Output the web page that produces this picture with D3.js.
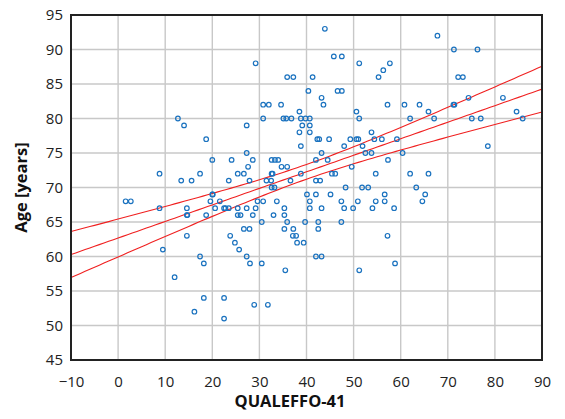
<!DOCTYPE html>
<html>
<head>
<meta charset="utf-8">
<script src="https://cdn.jsdelivr.net/npm/d3@7"></script>
<style>
  body { margin: 0; background: #fff; }
  text { font-family: "Open Sans", "Noto Sans", sans-serif; }
</style>
</head>
<body>
<div id="chart"></div>
<script>
// QUALEFFO-41 score vs age, one pair per patient
const patients = [
  [1.6,68],[2.7,68],[8.8,72],[8.8,67],[9.5,61],[12,57],[12.7,80],[13.4,71],[14,79],
  [14.6,67],[14.6,66],[14.7,66],[14.6,63],[15.6,71],[16.2,52],[17.4,72],[17.4,60],
  [18.2,59],[18.2,54],[18.7,77],[18.7,66],[19.6,68],[20,69],[20.1,69],[20,74],[20.6,67],
  [21.6,68],[22.5,67],[22.8,67],[23.5,67],[22.5,54],[22.5,51],[23.5,71],[23.8,63],
  [24.1,74],[24.8,62],[25.4,72],[25.4,67],[25.4,66],[25.7,61],[26,66],[26.7,72],[26.7,64],
  [27.3,79],[27.3,75],[27.3,67],[27.3,60],[27.6,73],[27.9,71],[27.9,64],[28,59],[28.6,74],
  [28.6,66],[28.9,53],[29.2,88],[29.2,67],[29.6,68],[30.5,65],[30.5,59],[30.8,82],[30.8,80],
  [30.8,68],[31.5,71],[31.8,53],[32,82],[32.6,74],[32.6,72],[32.8,72],[32.5,71],[32.6,70],
  [33.2,70],[33.3,74],[33,66],[33.7,68],[34,74],[34.6,82],[34.7,73],[35.1,80],[35.7,80],
  [36.8,80],[35.3,67],[35.3,66],[35.3,64],[35.5,58],[35.9,86],[35.9,73],[35.9,65],[36.6,71],
  [37.2,86],[37.2,64],[37.1,63],[37.8,63],[38,62],[39.4,62],[38.5,81],[38.5,78],[38.8,80],
  [38.8,76],[38.8,72],[39.1,79],[39.7,65],[39.8,80],[40.1,69],[40.4,84],[40.7,80],[40.7,79],
  [40.7,78],[40.7,68],[40.7,67],[41.3,86],[42,74],[42,71],[42,69],[42,60],[42.3,77],[42.7,77],
  [42.5,65],[42.5,64],[42.9,71],[43.2,83],[43.6,82],[43.2,75],[43.2,67],[43.2,60],[43.9,93],
  [44.5,74],[44.8,77],[45.1,69],[45.4,72],[45.8,89],[46.1,72],[46.6,84],[47.5,84],[47.5,89],
  [47.4,68],[47.4,65],[48,76],[48,67],[48.3,70],[49.3,77],[49.6,73],[49.9,67],[50.6,81],
  [50.6,77],[51,77],[50.9,68],[51.2,88],[51.2,80],[51.2,58],[51.8,70],[51.9,76],[52.5,75],
  [53.1,70],[53.8,78],[53.8,75],[54,67],[54.4,77],[54.7,72],[54.7,68],[55.3,86],[56,77],
  [56.3,87],[56.6,69],[56.6,68],[57.2,82],[57.3,74],[57.2,63],[57.7,88],[58.6,67],[58.8,59],
  [59.2,77],[60.4,75],[60.8,82],[62,80],[62,72],[63.3,70],[64,82],[64.6,68],[65.2,69],
  [65.9,81],[65.9,72],[67.1,80],[67.8,92],[71.3,90],[71.2,82],[71.4,82],[72.2,86],[73.2,86],
  [74.4,83],[75.1,80],[76.3,90],[77,80],[78.5,76],[81.7,83],[84.6,81],[85.9,80]
];

const xTicks = [-10, 0, 10, 20, 30, 40, 50, 60, 70, 80, 90];
const yTicks = [45, 50, 55, 60, 65, 70, 75, 80, 85, 90, 95];
const xTitle = "QUALEFFO-41";
const yTitle = "Age [years]";

const width = 565, height = 419;
const margin = { top: 15, right: 23, bottom: 59, left: 71 };

const svg = d3.select("#chart").append("svg")
  .attr("width", width)
  .attr("height", height);

const x = d3.scaleLinear().domain([-10, 90]).range([margin.left, width - margin.right]);
const y = d3.scaleLinear().domain([45, 95]).range([height - margin.bottom, margin.top]);

// grid
svg.append("g").selectAll("line").data(xTicks).join("line")
  .attr("x1", d => x(d)).attr("x2", d => x(d))
  .attr("y1", y(95)).attr("y2", y(45))
  .attr("stroke", "#c8c8c8").attr("stroke-width", 1.4);
svg.append("g").selectAll("line").data(yTicks).join("line")
  .attr("x1", x(-10)).attr("x2", x(90))
  .attr("y1", d => y(d)).attr("y2", d => y(d))
  .attr("stroke", "#c8c8c8").attr("stroke-width", 1.4);

// axes (labels only)
const fmt = d => d < 0 ? "\u2212" + Math.abs(d) : String(d);
const xAxis = svg.append("g")
  .attr("transform", `translate(0,${y(45)})`)
  .call(d3.axisBottom(x).tickValues(xTicks).tickFormat(fmt).tickSize(0).tickPadding(16));
const yAxis = svg.append("g")
  .attr("transform", `translate(${x(-10)},0)`)
  .call(d3.axisLeft(y).tickValues(yTicks).tickFormat(fmt).tickSize(0).tickPadding(8));
[xAxis, yAxis].forEach(a => {
  a.select(".domain").remove();
  a.selectAll("text").attr("font-size", 15).attr("fill", "#222")
    .style("font-family", '"Open Sans", sans-serif');
});

// regression line with 95% confidence band, computed from the points
const n = patients.length;
const mx = d3.mean(patients, d => d[0]);
const my = d3.mean(patients, d => d[1]);
const sxx = d3.sum(patients, d => (d[0] - mx) ** 2);
const sxy = d3.sum(patients, d => (d[0] - mx) * (d[1] - my));
const slope = sxy / sxx;
const icpt = my - slope * mx;
const sse = d3.sum(patients, d => (d[1] - icpt - slope * d[0]) ** 2);
const se = Math.sqrt(sse / (n - 2));
const tval = 1.973;
const fit = v => icpt + slope * v;
const half = v => tval * se * Math.sqrt(1 / n + (v - mx) ** 2 / sxx);

const xs = d3.range(-10, 90.01, 1);
const line = d3.line().x(d => x(d[0])).y(d => y(d[1]));
[v => fit(v) + half(v), v => fit(v), v => fit(v) - half(v)].forEach(f => {
  svg.append("path")
    .datum(xs.map(v => [v, f(v)]))
    .attr("d", line)
    .attr("fill", "none")
    .attr("stroke", "#f02020")
    .attr("stroke-width", 1.1);
});

// points
svg.append("g").selectAll("circle").data(patients).join("circle")
  .attr("cx", d => x(d[0]))
  .attr("cy", d => y(d[1]))
  .attr("r", 2.3)
  .attr("fill", "none")
  .attr("stroke", "#1a72bf")
  .attr("stroke-width", 1.2);

// frame
svg.append("rect")
  .attr("x", x(-10)).attr("y", y(95))
  .attr("width", x(90) - x(-10)).attr("height", y(45) - y(95))
  .attr("fill", "none").attr("stroke", "#222").attr("stroke-width", 2);

// titles
svg.append("text")
  .attr("x", 290).attr("y", 407)
  .attr("text-anchor", "middle")
  .attr("font-size", 16.5).attr("font-weight", "bold").attr("fill", "#111")
  .text(xTitle);
svg.append("text")
  .attr("transform", `translate(27,${(y(45) + y(95)) / 2}) rotate(-90)`)
  .attr("text-anchor", "middle")
  .attr("font-size", 16.5).attr("font-weight", "bold").attr("fill", "#111")
  .text(yTitle);
</script>
</body>
</html>
